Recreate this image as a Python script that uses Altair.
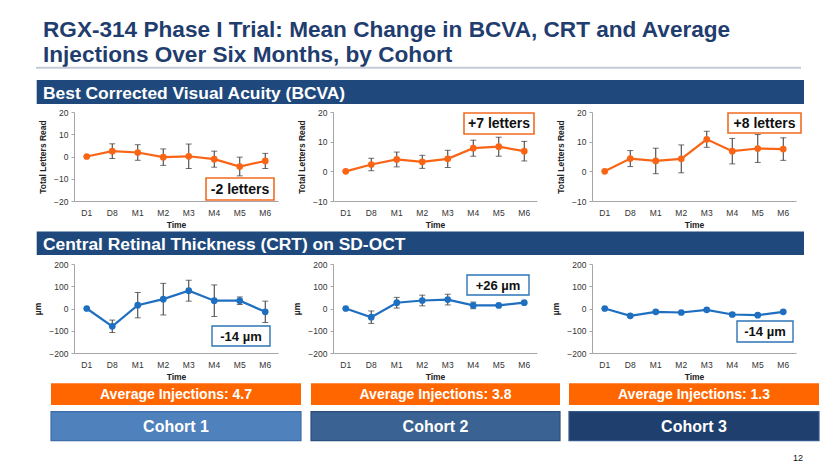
import altair as alt
import pandas as pd

# ---------------- data ----------------
categories = ["D1", "D8", "M1", "M2", "M3", "M4", "M5", "M6"]

bcva_mean_c1 = [0, 2.4, 1.8, -0.3, 0.1, -1.2, -4.5, -2.0]
bcva_err_c1 = [0, 3.3, 3.5, 3.7, 5.5, 3.6, 4.2, 3.4]
bcva_mean_c2 = [0, 2.3, 4.0, 3.2, 4.2, 7.8, 8.3, 6.8]
bcva_err_c2 = [0, 2.1, 2.5, 2.2, 2.9, 2.7, 3.2, 3.3]
bcva_mean_c3 = [0, 4.3, 3.5, 4.2, 10.8, 6.8, 7.7, 7.5]
bcva_err_c3 = [0, 2.7, 4.3, 4.7, 2.7, 4.3, 4.7, 3.8]

crt_mean_c1 = [0, -80, 15, 42, 80, 35, 35, -15]
crt_err_c1 = [0, 28, 57, 71, 47, 71, 17, 48]
crt_mean_c2 = [0, -39, 26, 36, 40, 14, 14, 26]
crt_err_c2 = [0, 28, 24, 24, 24, 15, 4, 4]
crt_mean_c3 = [0, -33, -15, -18, -6, -27, -30, -15]
crt_err_c3 = [0, 6, 4, 4, 4, 8, 4, 4]

bcva_ticks_c1 = [-20, -10, 0, 10, 20]
bcva_ticks_c23 = [-10, 0, 10, 20]
crt_ticks = [-200, -100, 0, 100, 200]

bcva_notes = ["-2 letters", "+7 letters", "+8 letters"]
crt_notes = ["-14 \u00b5m", "+26 \u00b5m", "-14 \u00b5m"]
injections = [4.7, 3.8, 1.3]
cohorts = ["Cohort 1", "Cohort 2", "Cohort 3"]

title_lines = ["RGX-314 Phase I Trial: Mean Change in BCVA, CRT and Average",
               "Injections Over Six Months, by Cohort"]
header_bcva = "Best Corrected Visual Acuity (BCVA)"
header_crt = "Central Retinal Thickness (CRT) on SD-OCT"
page_no = "12"

# ---------------- style / layout ----------------
FONT = "Liberation Sans"
W, H = 824, 457
PW = 204
NAVY = "#1F3D6E"
HEADER = "#1F497D"
ORANGE = "#F96515"
BOX_ORANGE = "#FF6600"
BLUE = "#1F6FC1"
COHORT_COLORS = ["#4F81BD", "#3A6292", "#1F3F6E"]
COHORT_STROKES = ["#3C6EAA", "#2C507E", "#34578A"]

one = pd.DataFrame({"k": [0]})


def rect(x, x2, y, y2, fill, stroke=None, sw=0):
    kw = dict(fill=fill)
    if stroke is not None:
        kw.update(stroke=stroke, strokeWidth=sw)
    return alt.Chart(one).mark_rect(**kw).encode(
        x=alt.value(x), x2=alt.value(x2), y=alt.value(y), y2=alt.value(y2))


def text(t, x, y, size, color, weight="bold", align="left", baseline="alphabetic"):
    return alt.Chart(one).mark_text(
        text=t, font=FONT, fontSize=size, color=color, fontWeight=weight,
        align=align, baseline=baseline).encode(x=alt.value(x), y=alt.value(y))


def panel(mean, err, x0, y_top, y_bot, domain, ticks, ytitle, color):
    df = pd.DataFrame({
        "time": categories,
        "mean": mean,
        "lo": [m - e for m, e in zip(mean, err)],
        "hi": [m + e for m, e in zip(mean, err)],
    })
    xenc = alt.X("time:N", sort=categories, title="Time",
                 scale=alt.Scale(domain=categories, range=[x0, x0 + PW]),
                 axis=alt.Axis(orient="bottom", offset=y_bot - H, ticks=False,
                               labelPadding=7, titlePadding=4, labelAngle=0))
    yscale = alt.Scale(domain=domain, range=[y_bot, y_top], nice=False, zero=False)
    yaxis = alt.Axis(orient="left", offset=-x0, values=ticks, title=ytitle,
                     tickSize=3, labelPadding=3, titlePadding=6, grid=False)
    base = alt.Chart(df).encode(x=xenc)
    rule = base.mark_rule(color="#333333", strokeWidth=1).encode(
        y=alt.Y("lo:Q", scale=yscale, axis=yaxis), y2="hi:Q")
    cap_lo = base.mark_tick(color="#333333", size=6, thickness=1).encode(
        y=alt.Y("lo:Q", scale=yscale, axis=yaxis))
    cap_hi = base.mark_tick(color="#333333", size=6, thickness=1).encode(
        y=alt.Y("hi:Q", scale=yscale, axis=yaxis))
    line = base.mark_line(color=color, strokeWidth=2.2).encode(
        y=alt.Y("mean:Q", scale=yscale, axis=yaxis))
    pts = base.mark_point(filled=True, size=45, color=color, opacity=1).encode(
        y=alt.Y("mean:Q", scale=yscale, axis=yaxis))
    return alt.layer(line, rule, cap_lo, cap_hi, pts)


decos = []
# title
decos.append(text(title_lines[0], 35, 28.7, 22.6, NAVY))
decos.append(text(title_lines[1], 35, 53.7, 22.6, NAVY))
decos.append(rect(28, 793, 58.7, 60.7, "#C5CBD6"))
# section headers
decos.append(rect(28.7, 796, 72, 96, HEADER))
decos.append(text(header_bcva, 35, 90.5, 17.4, "white"))
decos.append(rect(28.7, 796, 223.5, 247, HEADER))
decos.append(text(header_crt, 35, 242, 17.4, "white"))

# bottom boxes
box_x = [(43, 293), (303, 552), (561, 811)]
for i, (a, b) in enumerate(box_x):
    decos.append(rect(a, b, 375.3, 397, BOX_ORANGE))
    decos.append(text(f"Average Injections: {injections[i]}", (a + b) / 2, 386.5, 14,
                      "white", align="center", baseline="middle"))
    decos.append(rect(a, b, 403.7, 432.7, COHORT_COLORS[i], COHORT_STROKES[i], 1.2))
    decos.append(text(cohorts[i], (a + b) / 2, 418.5, 16, "white",
                      align="center", baseline="middle"))
decos.append(text(page_no, 790, 450, 9, "#111111", weight="normal",
                  align="center", baseline="middle"))

# panels
px = [66, 325, 584]
panels = [
    panel(bcva_mean_c1, bcva_err_c1, px[0], 104, 193, [-20, 20], bcva_ticks_c1, "Total Letters Read", ORANGE),
    panel(bcva_mean_c2, bcva_err_c2, px[1], 104, 193, [-10, 20], bcva_ticks_c23, "Total Letters Read", ORANGE),
    panel(bcva_mean_c3, bcva_err_c3, px[2], 104, 193, [-10, 20], bcva_ticks_c23, "Total Letters Read", ORANGE),
    panel(crt_mean_c1, crt_err_c1, px[0], 256, 345, [-200, 200], crt_ticks, "\u00b5m", BLUE),
    panel(crt_mean_c2, crt_err_c2, px[1], 256, 345, [-200, 200], crt_ticks, "\u00b5m", BLUE),
    panel(crt_mean_c3, crt_err_c3, px[2], 256, 345, [-200, 200], crt_ticks, "\u00b5m", BLUE),
]

# annotation boxes
notes = []
bcva_boxes = [(198, 266, 170, 192), (456, 526, 105, 126), (720, 793, 105, 125)]
crt_boxes = [(204, 262, 318, 338), (459, 521, 267, 287), (729, 785, 313, 334)]
for i, (a, b, c, d) in enumerate(bcva_boxes):
    notes.append(rect(a, b, c, d, "white", "#F26B21", 1.6))
    notes.append(text(bcva_notes[i], (a + b) / 2, (c + d) / 2 + 0.5, 14, "#111111",
                      align="center", baseline="middle"))
for i, (a, b, c, d) in enumerate(crt_boxes):
    notes.append(rect(a, b, c, d, "white", "#2E75B6", 1.4))
    notes.append(text(crt_notes[i], (a + b) / 2, (c + d) / 2 + 0.5, 13, "#111111",
                      align="center", baseline="middle"))

chart = (
    alt.layer(*decos, *panels, *notes)
    .resolve_scale(x="independent", y="independent")
    .properties(width=W, height=H, padding=0,
                autosize=alt.AutoSizeParams(type="none"), background="white")
    .configure_view(stroke=None)
    .configure_axis(labelFont=FONT, labelFontSize=8.5, labelColor="#333333",
                    titleFont=FONT, titleFontSize=8.5, titleFontWeight="bold",
                    titleColor="#222222", domainColor="#A6A6A6", tickColor="#A6A6A6",
                    grid=False)
)

chart.save("out.html", embed_options={"renderer": "svg", "actions": False})
